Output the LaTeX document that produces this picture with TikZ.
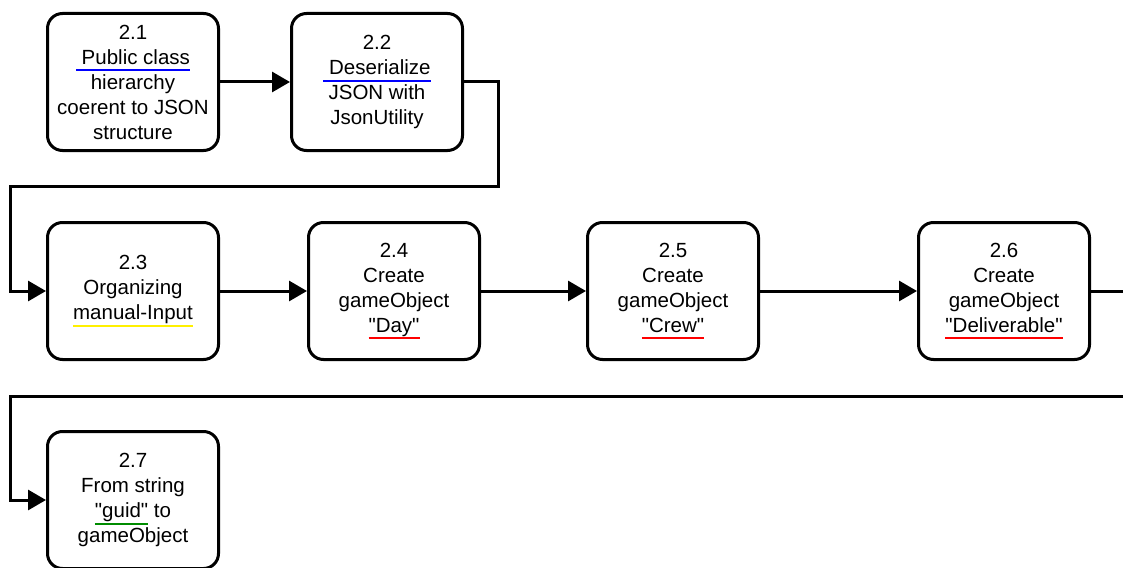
\documentclass[tikz,border=0pt]{standalone}
\usepackage{fontspec}
\setmainfont{Liberation Sans}[Ligatures=TeXOff]
\usetikzlibrary{arrows.meta}
% coloured underline below a word
\newcommand\ulc[2]{\setbox0\hbox{#2}\rlap{\color{#1}\rule[-7pt]{\wd0}{2pt}}\box0}
\definecolor{ulblue}{RGB}{0,0,255}
\definecolor{ulyellow}{RGB}{255,240,0}
\definecolor{ulred}{RGB}{255,0,0}
\definecolor{ulgreen}{RGB}{0,140,0}
\tikzset{
  stepbox/.style={draw, line width=3pt, rounded corners=15pt,
    minimum width=171pt, minimum height=137pt, inner sep=0pt,
    align=center, font=\fontsize{20.5}{25}\selectfont},
  conn/.style={line width=3pt, -{Triangle[length=18pt,width=20pt]}}
}
\begin{document}
\begin{tikzpicture}[x=1pt,y=-1pt]
\useasboundingbox (0,0) rectangle (1123,567);
\clip (0,0) rectangle (1123,567);
\fill[white] (0,0) rectangle (1123,567);

\node[stepbox] (n21) at (133,82) {2.1\\\ulc{ulblue}{ Public class}\\hierarchy\\coerent to JSON\\structure};
\node[stepbox] (n22) at (377,82) {2.2\\\ulc{ulblue}{ Deserialize}\\JSON with\\JsonUtility};
\node[stepbox] (n23) at (133,291) {2.3\\Organizing\\\ulc{ulyellow}{manual-Input}};
\node[stepbox] (n24) at (394,291) {2.4\\Create\\gameObject\\\ulc{ulred}{"Day"}};
\node[stepbox] (n25) at (673,291) {2.5\\Create\\gameObject\\\ulc{ulred}{"Crew"}};
\node[stepbox] (n26) at (1004,291) {2.6\\Create\\gameObject\\\ulc{ulred}{"Deliverable"}};
\node[stepbox] (n27) at (133,500) {2.7\\From string\\\ulc{ulgreen}{"guid"}\ to\\gameObject};

\coordinate (c1) at (498,186);
\coordinate (c2) at (10,186);
\coordinate (c3) at (1150,396);
\coordinate (c4) at (10,396);

\draw[conn] (n21) -- (n22);
\draw[conn] (n22.east) -| (c1) -- (c2) |- (n23.west);
\draw[conn] (n23) -- (n24);
\draw[conn] (n24) -- (n25);
\draw[conn] (n25) -- (n26);
\draw[conn] (n26.east) -| (c3) -- (c4) |- (n27.west);
\end{tikzpicture}
\end{document}
